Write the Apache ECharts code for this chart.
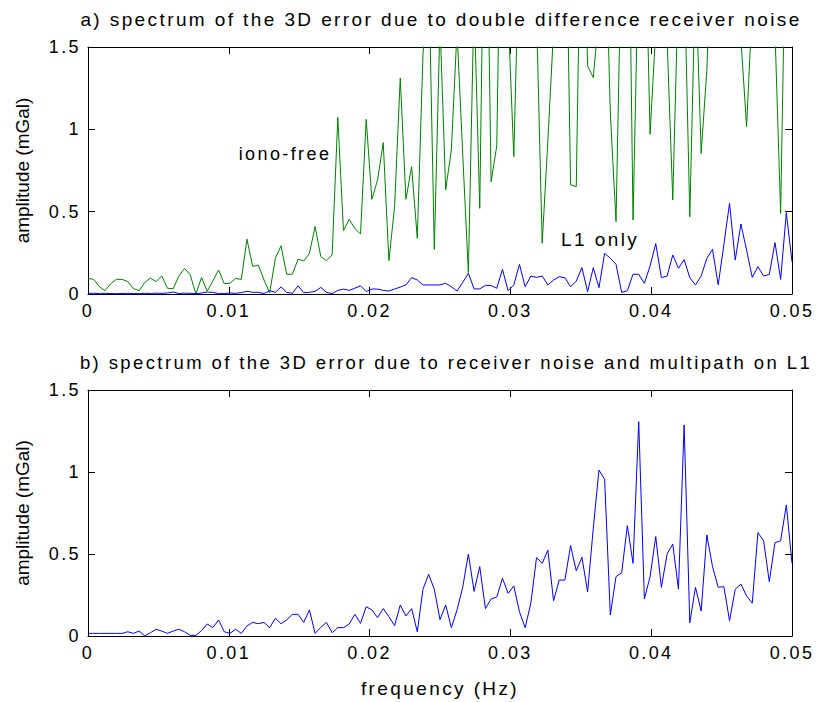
<!DOCTYPE html>
<html><head><meta charset="utf-8">
<script src="https://cdn.jsdelivr.net/npm/echarts@6/dist/echarts.min.js"></script>
<style>
html,body{margin:0;padding:0;background:#fff;}
#chart{width:817px;height:702px;}
#chart text[style*="Arial"]{letter-spacing:2.4px;}
</style></head><body><div id="chart"></div>
<script>
// frequency grid step (Hz): 124 bins from 0 to 0.05 Hz
const frequencyStep = 0.05 / 124;

// a) iono-free spectrum (green), values above 1.5 are clipped by the axis
const ionoFree = [
  0.095,0.089,0.045,0.02,0.062,0.089,0.089,0.075,0.033,0.02,
  0.07,0.097,0.075,0.11,0.035,0.032,0.109,0.155,0.117,0.0,
  0.1,0.017,0.08,0.146,0.063,0.065,0.095,0.088,0.333,0.168,
  0.176,0.085,0.007,0.217,0.293,0.12,0.12,0.212,0.2,0.247,
  0.41,0.227,0.202,0.237,1.073,0.385,0.453,0.399,0.364,1.061,
  0.575,0.692,0.919,0.202,0.53,1.312,0.575,0.773,0.338,1.45,
  2.0,0.271,1.65,0.632,0.875,1.6,0.85,0.13,1.8,0.52,
  3.0,0.682,0.899,3.1,1.7,0.834,2.2,2.5,2.2,1.7,
  0.308,0.93,1.6,2.5,2.8,0.662,0.652,2.8,1.385,1.314,
  1.7,2.4,1.1,0.439,2.2,3.1,0.449,2.1,2.5,0.97,
  1.6,2.4,1.55,0.571,1.9,2.0,0.469,1.95,0.854,1.36,
  2.3,2.6,2.2,2.5,2.0,1.55,1.016,1.75,2.3,2.6,
  2.4,1.6,0.49,2.5,2.2
];

// a) L1 only spectrum (blue)
const l1OnlyTop = [
  0.004,0.004,0.003,0.004,0.003,0.002,0.003,0.004,0.003,0.002,
  0.004,0.003,0.005,0.004,0.006,0.012,0.003,0.005,0.004,0.002,
  0.006,0.012,0.01,0.002,0.003,0.006,0.004,0.008,0.016,0.01,
  0.01,0.003,0.02,0.01,0.043,0.01,0.004,0.05,0.008,0.01,
  0.016,0.04,0.01,0.002,0.022,0.03,0.022,0.035,0.05,0.015,
  0.03,0.03,0.022,0.018,0.03,0.042,0.055,0.1,0.085,0.055,
  0.055,0.055,0.055,0.065,0.044,0.018,0.07,0.126,0.031,0.031,
  0.053,0.051,0.035,0.15,0.02,0.055,0.18,0.044,0.109,0.101,
  0.109,0.055,0.085,0.105,0.099,0.044,0.079,0.16,0.014,0.16,
  0.038,0.247,0.217,0.18,0.01,0.02,0.12,0.12,0.065,0.17,
  0.306,0.099,0.109,0.237,0.156,0.209,0.099,0.055,0.109,0.217,
  0.271,0.055,0.3,0.551,0.206,0.425,0.267,0.101,0.166,0.109,
  0.119,0.312,0.089,0.494,0.196
];

// b) receiver noise and multipath on L1 (blue)
const multipathL1 = [
  0.016,0.016,0.016,0.016,0.016,0.016,0.016,0.026,0.016,0.03,
  0.0,0.02,0.041,0.03,0.016,0.03,0.041,0.026,0.004,0.004,
  0.033,0.073,0.051,0.098,0.026,0.016,0.041,0.016,0.061,0.083,
  0.075,0.083,0.051,0.108,0.075,0.098,0.132,0.132,0.083,0.159,
  0.016,0.053,0.083,0.02,0.051,0.051,0.073,0.132,0.077,0.179,
  0.159,0.112,0.167,0.118,0.063,0.189,0.122,0.167,0.026,0.285,
  0.376,0.285,0.1,0.189,0.051,0.159,0.297,0.5,0.272,0.423,
  0.167,0.226,0.238,0.352,0.26,0.305,0.148,0.051,0.2,0.478,
  0.443,0.524,0.215,0.341,0.341,0.551,0.398,0.48,0.27,0.657,
  1.012,0.955,0.128,0.362,0.386,0.673,0.443,1.307,0.226,0.362,
  0.606,0.297,0.5,0.561,0.285,1.287,0.081,0.297,0.152,0.616,
  0.423,0.297,0.301,0.093,0.285,0.317,0.244,0.2,0.63,0.581,
  0.331,0.569,0.581,0.799,0.443
];

const xTickLabels = ['0','0.01','0.02','0.03','0.04','0.05'];
const yTickLabels = ['0','0.5','1','1.5'];
const titleA = 'a) spectrum of the 3D error due to double difference receiver noise';
const titleB = 'b) spectrum of the 3D error due to receiver noise and multipath on L1';
const yName = 'amplitude (mGal)';
const xName = 'frequency (Hz)';
const labelIono = {text: 'iono-free', x: 0.0107, y: 0.85};
const labelL1 = {text: 'L1 only', x: 0.0336, y: 0.334};

const SPACED = 'Liberation Sans, Arial, sans-serif';
const PLAIN = 'Liberation Sans, sans-serif';

function pairs(vals) { return vals.map((v, i) => [i * frequencyStep, v]); }

const chart = echarts.init(document.getElementById('chart'), null, {renderer: 'svg'});

const grids = [
  {left: 88, right: 25, top: 47, height: 247},
  {left: 88, right: 25, top: 390, height: 246}
];

function xAxisFor(gi, pos, withLabels, name) {
  return {
    type: 'value', gridIndex: gi, position: pos, min: 0, max: 0.05, interval: 0.01,
    axisLine: {show: true, onZero: false, lineStyle: {color: '#000', width: 1}},
    axisTick: {show: true, inside: true, length: 7, lineStyle: {color: '#000', width: 1}},
    axisLabel: {show: withLabels, color: '#000', fontSize: 18, fontFamily: SPACED, margin: 8,
      formatter: v => xTickLabels[Math.round(v / 0.01)]},
    splitLine: {show: false},
    name: name || '', nameLocation: 'middle', nameGap: 43,
    nameTextStyle: {color: '#000', fontSize: 19, fontFamily: SPACED}
  };
}
function yAxisFor(gi, pos, withLabels, name) {
  return {
    type: 'value', gridIndex: gi, position: pos, min: 0, max: 1.5, interval: 0.5,
    axisLine: {show: true, onZero: false, lineStyle: {color: '#000', width: 1}},
    axisTick: {show: true, inside: true, length: 7, lineStyle: {color: '#000', width: 1}},
    axisLabel: {show: withLabels, color: '#000', fontSize: 18, fontFamily: SPACED, margin: 7,
      formatter: v => yTickLabels[Math.round(v / 0.5)]},
    splitLine: {show: false},
    name: name || '', nameLocation: 'middle', nameGap: 56, nameRotate: 90,
    nameTextStyle: {color: '#000', fontSize: 19, fontFamily: PLAIN}
  };
}

const option = {
  animation: false,
  backgroundColor: '#fff',
  title: [
    {text: titleA, left: 436, top: 5, textAlign: 'center',
     textStyle: {fontSize: 19, fontWeight: 'normal', fontFamily: SPACED, color: '#000'}},
    {text: titleB, left: 441, top: 348, textAlign: 'center',
     textStyle: {fontSize: 18.5, fontWeight: 'normal', fontFamily: SPACED, color: '#000'}}
  ],
  grid: grids,
  xAxis: [
    xAxisFor(0, 'bottom', true),
    xAxisFor(0, 'top', false),
    xAxisFor(1, 'bottom', true, xName),
    xAxisFor(1, 'top', false)
  ],
  yAxis: [
    yAxisFor(0, 'left', true, yName),
    yAxisFor(0, 'right', false),
    yAxisFor(1, 'left', true, yName),
    yAxisFor(1, 'right', false)
  ],
  series: [
    {type: 'line', name: 'iono-free', xAxisIndex: 0, yAxisIndex: 0, data: pairs(ionoFree),
     showSymbol: false, symbol: 'none', clip: true, lineStyle: {color: '#008000', width: 1}, itemStyle: {color: '#008000'}},
    {type: 'line', name: 'L1 only', xAxisIndex: 0, yAxisIndex: 0, data: pairs(l1OnlyTop),
     showSymbol: false, symbol: 'none', clip: true, lineStyle: {color: '#0000ff', width: 1}, itemStyle: {color: '#0000ff'}},
    {type: 'line', name: 'L1 multipath', xAxisIndex: 2, yAxisIndex: 2, data: pairs(multipathL1),
     showSymbol: false, symbol: 'none', clip: true, lineStyle: {color: '#0000ff', width: 1}, itemStyle: {color: '#0000ff'}}
  ]
};
chart.setOption(option);

const p1 = chart.convertToPixel({xAxisIndex: 0, yAxisIndex: 0}, [labelIono.x, labelIono.y]);
const p2 = chart.convertToPixel({xAxisIndex: 0, yAxisIndex: 0}, [labelL1.x, labelL1.y]);
chart.setOption({
  graphic: [
    {type: 'text', x: p1[0], y: p1[1], z: 100,
     style: {text: labelIono.text, fill: '#000', fontSize: 18, fontFamily: SPACED, textAlign: 'left', textVerticalAlign: 'middle', verticalAlign: 'middle'}},
    {type: 'text', x: p2[0], y: p2[1], z: 100,
     style: {text: labelL1.text, fill: '#000', fontSize: 19, fontFamily: SPACED, textAlign: 'left', textVerticalAlign: 'middle', verticalAlign: 'middle'}}
  ]
});
</script></body></html>
